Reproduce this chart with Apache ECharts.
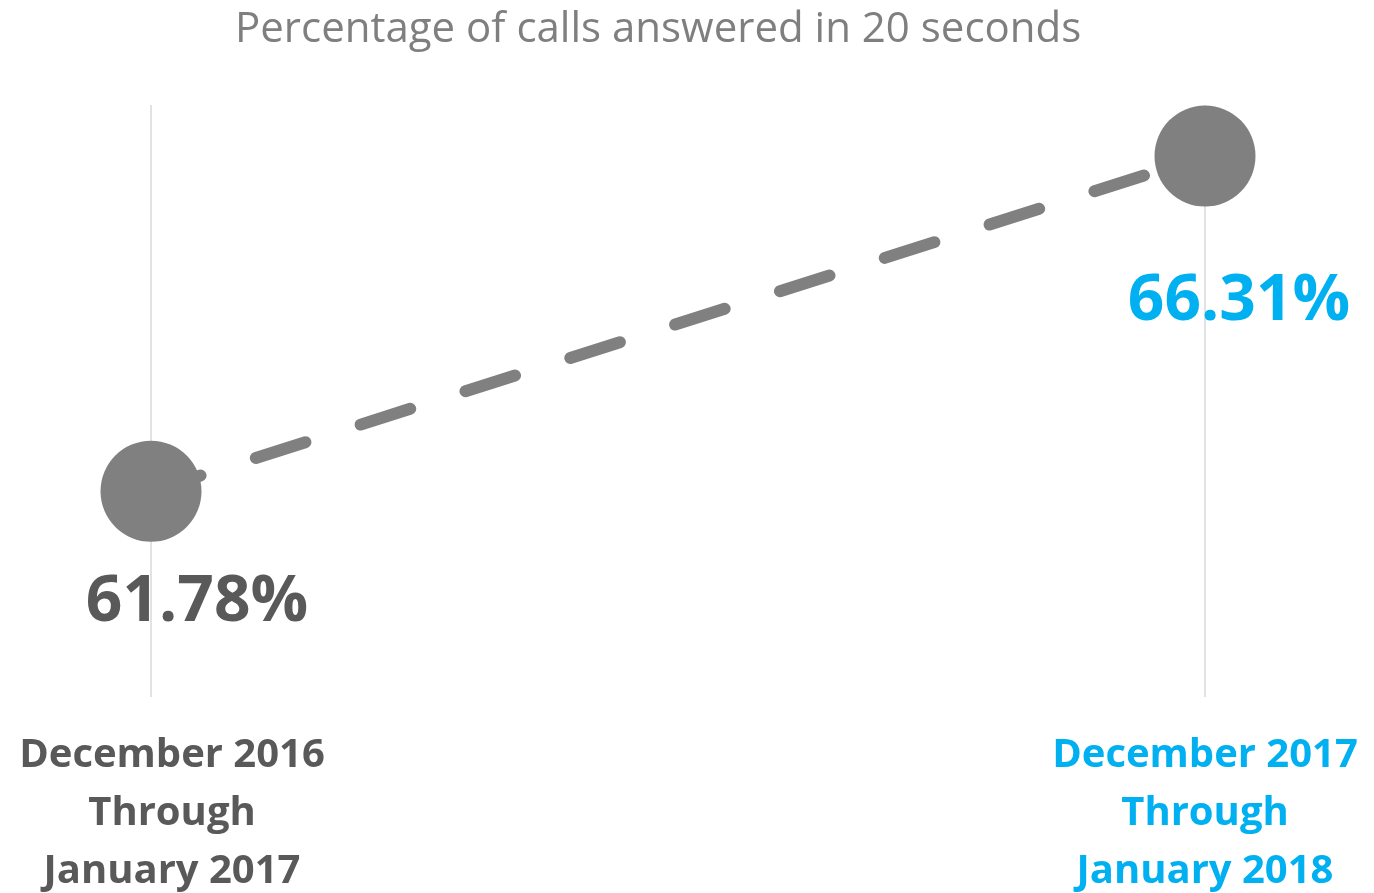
<!DOCTYPE html>
<html>
<head>
<meta charset="utf-8">
<script src="https://cdn.jsdelivr.net/npm/echarts@6/dist/echarts.min.js"></script>
<style>
html,body{margin:0;padding:0;background:#fff;}
#chart{width:1374px;height:893px;}
</style>
</head>
<body>
<div id="chart"></div>
<script>
const titleText = 'Percentage of calls answered in 20 seconds';
const categories = ['December 2016\nThrough\nJanuary 2017', 'December 2017\nThrough\nJanuary 2018'];
const values = [61.78, 66.31];
const labelColors = ['#595959', '#00B0F0'];

const chart = echarts.init(document.getElementById('chart'), null, {renderer: 'canvas'});

const labelOffsets = [[46, 111], [34, 146]];
const labelPads = [42, 0];

chart.setOption({
  animation: false,
  backgroundColor: '#ffffff',
  title: {
    text: titleText,
    left: 230,
    top: 4,
    textStyle: {
      fontFamily: 'Open Sans',
      fontWeight: 'normal',
      fontSize: 42,
      color: '#7F7F7F'
    }
  },
  grid: {left: 151, right: 169, top: 105, bottom: 196, containLabel: false, outerBoundsMode: 'none'},
  xAxis: {
    type: 'category',
    boundaryGap: false,
    data: categories,
    axisLine: {show: false},
    axisTick: {show: false},
    splitLine: {show: true, lineStyle: {color: '#D9D9D9', width: 1.5}},
    axisLabel: {
      interval: 0,
      margin: 30,
      hideOverlap: false,
      formatter: function (val, idx) {
        const key = 'c' + idx;
        return val.split('\n').map(s => '{' + key + '|' + s + '}').join('\n');
      },
      rich: {
        c0: {fontFamily: 'Open Sans', fontWeight: 'bold', fontSize: 40, lineHeight: 58, color: labelColors[0], padding: [0, 0, 0, labelPads[0]]},
        c1: {fontFamily: 'Open Sans', fontWeight: 'bold', fontSize: 40, lineHeight: 58, color: labelColors[1], padding: [0, 0, 0, labelPads[1]]}
      }
    }
  },
  yAxis: {
    type: 'value',
    min: 59,
    max: 67,
    show: false,
    splitLine: {show: false}
  },
  series: [{
    type: 'line',
    data: values.map((v, i) => ({
      value: v,
      label: {
        show: true,
        position: 'inside',
        offset: labelOffsets[i],
        color: labelColors[i],
        fontFamily: 'Open Sans',
        fontWeight: 'bold',
        fontSize: 64,
        formatter: function (p) { return p.value.toFixed(2) + '%'; }
      }
    })),
    symbol: 'circle',
    symbolSize: 101,
    itemStyle: {color: '#808080'},
    lineStyle: {color: '#808080', width: 12, type: [52, 58], cap: 'round'},
    z: 3
  }]
});
</script>
</body>
</html>
